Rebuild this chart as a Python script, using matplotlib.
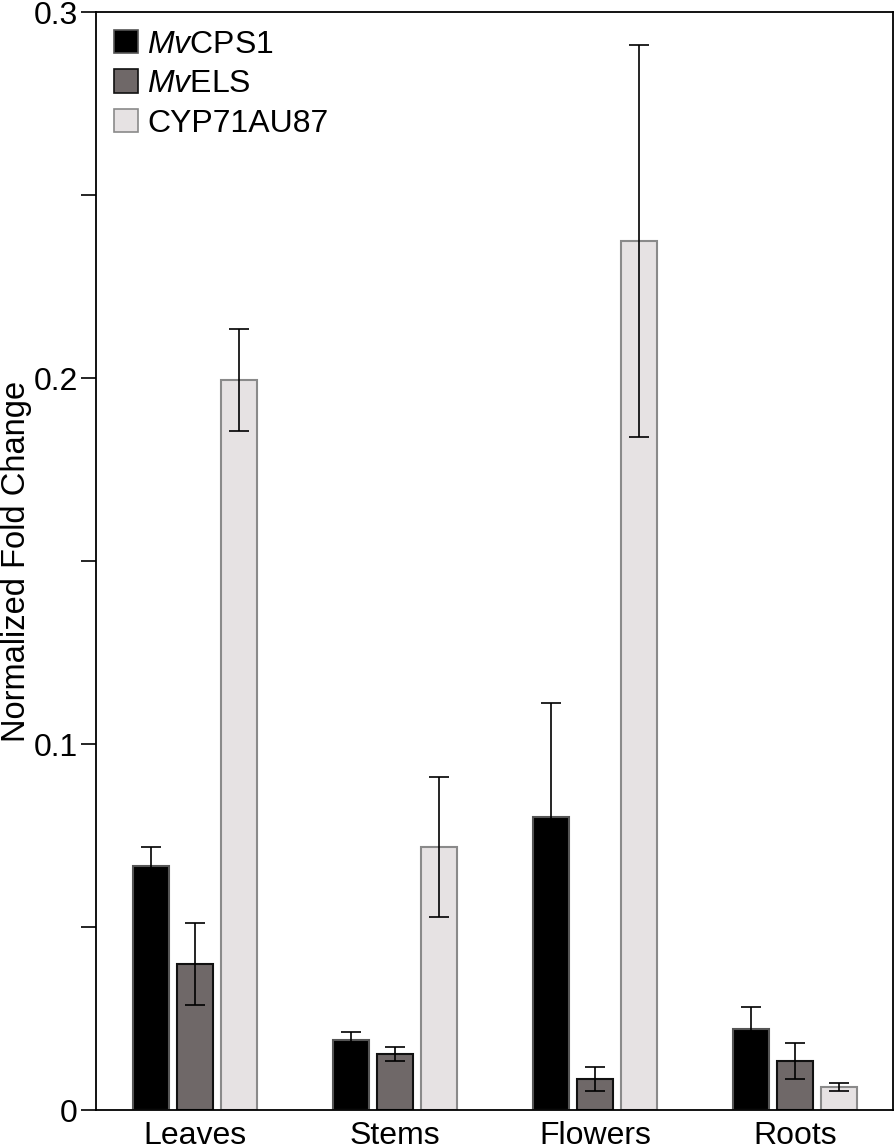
import numpy as np
import matplotlib
matplotlib.use("Agg")
import matplotlib.pyplot as plt
from matplotlib.patches import Patch

plt.rcParams['font.family'] = ['Liberation Sans', 'DejaVu Sans']
plt.rcParams['mathtext.fontset'] = 'custom'
plt.rcParams['mathtext.rm'] = 'Liberation Sans'
plt.rcParams['mathtext.it'] = 'Liberation Sans:italic'

# tissues and series
tissues = ['Leaves', 'Stems', 'Flowers', 'Roots']
genes = [r'$\it{Mv}$CPS1', r'$\it{Mv}$ELS', 'CYP71AU87']

cps1 = [0.0667, 0.0191, 0.0801, 0.0221]
cps1_err = [0.0052, 0.0022, 0.0312, 0.0060]
els = [0.0399, 0.0153, 0.0085, 0.0134]
els_err = [0.0112, 0.0018, 0.0033, 0.0050]
cyp = [0.1995, 0.0719, 0.2374, 0.0063]
cyp_err = [0.0140, 0.0192, 0.0535, 0.0010]

fills = ['#000000', '#6f6868', '#e6e2e3']
edges = ['#555555', '#111111', '#8a8a8a']

fig = plt.figure(figsize=(8.95, 11.48), dpi=100)
ax = fig.add_axes([0.1073, 0.0331, 0.8905, 0.9564])

x = np.arange(len(tissues))
w = 0.18
off = 0.22
for i, (vals, errs) in enumerate([(cps1, cps1_err), (els, els_err), (cyp, cyp_err)]):
    ax.bar(x + (i - 1) * off, vals, width=w, color=fills[i], edgecolor=edges[i],
           linewidth=1.5, zorder=2)
    ax.errorbar(x + (i - 1) * off, vals, yerr=errs, fmt='none', ecolor='black',
                elinewidth=1.2, capsize=7.5, capthick=1.2, zorder=3)

ax.set_xlim(-0.495, 3.49)
ax.set_ylim(0, 0.3)
ax.set_xticks(x)
ax.set_xticklabels(tissues, fontsize=23)
ax.tick_params(axis='x', length=0, pad=8)
ax.set_yticks([0, 0.1, 0.2, 0.3])
ax.set_yticklabels(['0', '0.1', '0.2', '0.3'], fontsize=23)
ax.set_yticks([0.05, 0.15, 0.25], minor=True)
ax.tick_params(axis='y', which='both', length=11, width=1.2, direction='out', pad=2)
for s in ax.spines.values():
    s.set_linewidth(1.3)

ax.set_ylabel('Normalized Fold Change', fontsize=23.5, labelpad=1)

handles = [Patch(facecolor=fills[i], edgecolor=edges[i], linewidth=1.2) for i in range(3)]
ax.legend(handles, genes, loc='upper left', frameon=False, fontsize=23,
          handlelength=0.75, handleheight=0.75, handletextpad=0.3,
          labelspacing=0.3, borderaxespad=0.15, bbox_to_anchor=(0.0, 1.0))

fig.savefig('out.png', dpi=100)
